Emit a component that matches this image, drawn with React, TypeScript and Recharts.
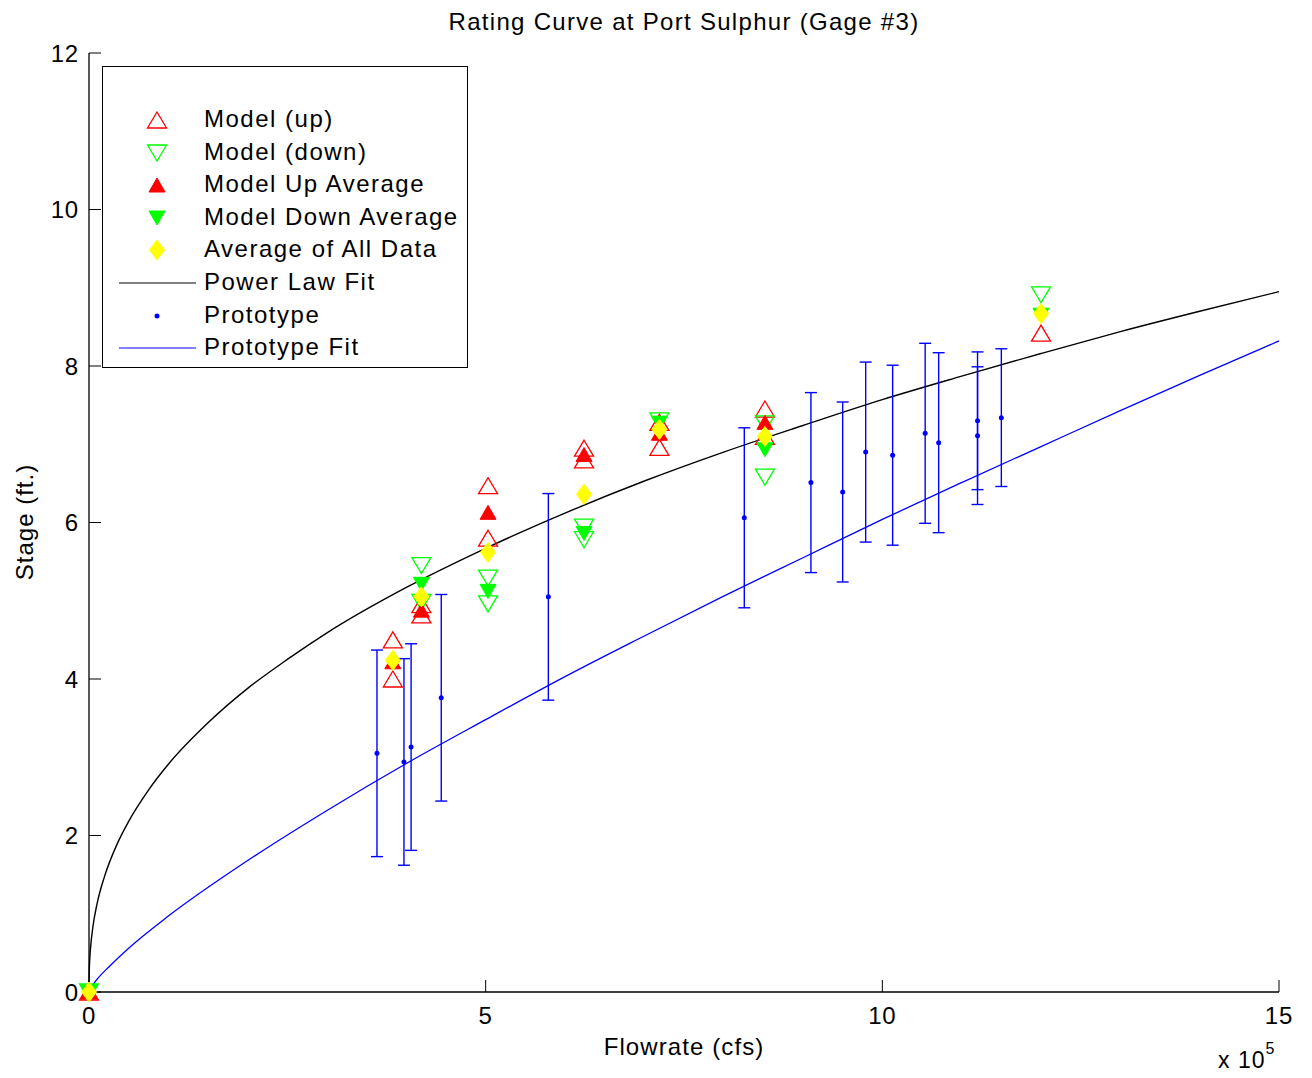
import React from 'react';
import { ComposedChart, Scatter, Line, XAxis, YAxis, ErrorBar } from 'recharts';

// Flowrate in units of 1e5 cfs, stage in ft
const modelFlows = [0, 3.83, 4.19, 5.03, 6.24, 7.19, 8.52, 12.0];
const modelUp = [[0], [4.5, 4.0], [4.95, 4.82], [6.47, 5.8], [6.95, 6.8], [7.28, 6.96], [7.45, 7.1], [8.42]];
const modelDown = [[0], [], [5.45, 4.98], [5.29, 4.96], [5.94, 5.78], [7.3], [7.26, 6.58], [8.91]];
const modelUpAvg = [0, 4.22, 4.88, 6.13, 6.87, 7.14, 7.28, null];
const modelDownAvg = [0, null, 5.21, 5.12, 5.86, 7.27, 6.93, 8.65];
const allAvg = [0, 4.24, 5.05, 5.62, 6.36, 7.19, 7.1, 8.67];

const protoFlow = [3.63, 3.97, 4.06, 4.44, 5.79, 8.26, 9.1, 9.5, 9.79, 10.13, 10.54, 10.71, 11.2, 11.2, 11.5];
const protoStage = [3.05, 2.94, 3.13, 3.76, 5.05, 6.06, 6.51, 6.39, 6.9, 6.86, 7.14, 7.02, 7.3, 7.11, 7.34];
const protoErr = [1.32, 1.32, 1.32, 1.32, 1.32, 1.15, 1.15, 1.15, 1.15, 1.15, 1.15, 1.15, 0.88, 0.88, 0.88];

const powerFlow = [0, 0.002, 0.005, 0.01, 0.02, 0.05, 0.1, 0.2, 0.35, 0.5, 0.75, 1, 1.5, 2, 2.5, 3, 4, 5, 6, 7, 8, 9, 10, 11, 12, 13, 14, 15];
const powerStage = [0, 0.2, 0.32, 0.43, 0.57, 0.84, 1.12, 1.49, 1.88, 2.18, 2.58, 2.91, 3.44, 3.88, 4.25, 4.59, 5.17, 5.67, 6.12, 6.53, 6.9, 7.24, 7.57, 7.87, 8.16, 8.44, 8.7, 8.95];

const protoFitFlow = [0, 0.05, 0.1, 0.25, 0.5, 1, 2, 3, 4, 5, 6, 7, 8, 9, 10, 11, 12, 13, 14, 15];
const protoFitStage = [0, 0.09, 0.16, 0.32, 0.56, 0.97, 1.68, 2.32, 2.92, 3.48, 4.03, 4.55, 5.06, 5.55, 6.04, 6.51, 6.97, 7.43, 7.88, 8.32];

const xTicks = [0, 5, 10, 15];
const yTicks = [0, 2, 4, 6, 8, 10, 12];

const RED = '#ff0000';
const GREEN = '#00ff00';
const BLUE = '#0000ff';
const YELLOW = '#ffff00';
const FONT = '"Liberation Sans", Arial, sans-serif';

const upData = modelFlows.flatMap((x, i) => modelUp[i].map(y => ({ x, y })));
const downData = modelFlows.flatMap((x, i) => modelDown[i].map(y => ({ x, y })));
const upAvgData = modelFlows.map((x, i) => ({ x, y: modelUpAvg[i] })).filter(d => d.y !== null);
const downAvgData = modelFlows.map((x, i) => ({ x, y: modelDownAvg[i] })).filter(d => d.y !== null);
const allAvgData = modelFlows.map((x, i) => ({ x, y: allAvg[i] }));
const protoData = protoFlow.map((x, i) => ({ x, y: protoStage[i], err: protoErr[i] }));
const powerData = powerFlow.map((x, i) => ({ x, y: powerStage[i] }));
const protoFitData = protoFitFlow.map((x, i) => ({ x, y: protoFitStage[i] }));

const triUp = (cx: number, cy: number, h: number, w: number) =>
  `${cx},${cy - h} ${cx - w},${cy + h} ${cx + w},${cy + h}`;
const triDown = (cx: number, cy: number, h: number, w: number) =>
  `${cx - w},${cy - h} ${cx + w},${cy - h} ${cx},${cy + h}`;

const UpOpen = ({ cx, cy }: any) => <polygon points={triUp(cx, cy, 8, 9.5)} fill="none" stroke={RED} strokeWidth={1.3} />;
const DownOpen = ({ cx, cy }: any) => <polygon points={triDown(cx, cy, 8, 9.5)} fill="none" stroke={GREEN} strokeWidth={1.3} />;
const UpFilled = ({ cx, cy }: any) => <polygon points={triUp(cx, cy, 7, 8)} fill={RED} stroke={RED} />;
const DownFilled = ({ cx, cy }: any) => <polygon points={triDown(cx, cy, 7, 8)} fill={GREEN} stroke={GREEN} />;
const Diamond = ({ cx, cy }: any) => (
  <polygon points={`${cx},${cy - 10} ${cx + 7.5},${cy} ${cx},${cy + 10} ${cx - 7.5},${cy}`} fill={YELLOW} stroke={YELLOW} />
);
const Dot = ({ cx, cy }: any) => <circle cx={cx} cy={cy} r={2.5} fill={BLUE} />;

const legendItems = [
  { label: 'Model (up)', icon: 'upOpen' },
  { label: 'Model (down)', icon: 'downOpen' },
  { label: 'Model Up Average', icon: 'upFilled' },
  { label: 'Model Down Average', icon: 'downFilled' },
  { label: 'Average of All Data', icon: 'diamond' },
  { label: 'Power Law Fit', icon: 'blackLine' },
  { label: 'Prototype', icon: 'dot' },
  { label: 'Prototype Fit', icon: 'blueLine' },
];

const LegendIcon = ({ icon }: { icon: string }) => {
  const cx = 40;
  const cy = 12;
  switch (icon) {
    case 'upOpen': return <UpOpen cx={cx} cy={cy} />;
    case 'downOpen': return <DownOpen cx={cx} cy={cy} />;
    case 'upFilled': return <UpFilled cx={cx} cy={cy} />;
    case 'downFilled': return <DownFilled cx={cx} cy={cy} />;
    case 'diamond': return <Diamond cx={cx} cy={cy} />;
    case 'dot': return <Dot cx={cx} cy={cy} />;
    case 'blackLine': return <line x1={2} x2={79} y1={cy} y2={cy} stroke="#000" strokeWidth={1.2} />;
    default: return <line x1={2} x2={79} y1={cy} y2={cy} stroke={BLUE} strokeWidth={1.2} />;
  }
};

const abs = (left: number, top: number, extra: React.CSSProperties = {}): React.CSSProperties => ({
  position: 'absolute', left, top, fontFamily: FONT, color: '#000', whiteSpace: 'nowrap', ...extra,
});

export default function App() {
  const tickStyle = { fontSize: 24, fill: '#000', fontFamily: FONT, letterSpacing: 0.8 };
  return (
    <div style={{ position: 'absolute', left: 0, top: 0, width: 1312, height: 1078, background: '#fff' }}>
      <ComposedChart width={1312} height={1078} margin={{ top: 53, right: 33, left: 0, bottom: 0 }}>
        <XAxis
          type="number" dataKey="x" domain={[0, 15]} ticks={xTicks} height={86}
          tickSize={-12} tickMargin={27} tick={tickStyle}
          stroke="#000" axisLine={{ stroke: '#000', strokeWidth: 1.3 }} tickLine={{ stroke: '#000' }}
        />
        <YAxis
          type="number" dataKey="y" domain={[0, 12]} ticks={yTicks} width={89}
          tickSize={-12} tickMargin={22} tick={tickStyle}
          stroke="#000" axisLine={{ stroke: '#000', strokeWidth: 1.3 }} tickLine={{ stroke: '#000' }}
        />
        <Scatter data={upData} shape={UpOpen} isAnimationActive={false} />
        <Scatter data={downData} shape={DownOpen} isAnimationActive={false} />
        <Scatter data={upAvgData} shape={UpFilled} isAnimationActive={false} />
        <Scatter data={downAvgData} shape={DownFilled} isAnimationActive={false} />
        <Scatter data={allAvgData} shape={Diamond} isAnimationActive={false} />
        <Line data={powerData} dataKey="y" type="monotone" stroke="#000" strokeWidth={1.4} dot={false} activeDot={false} isAnimationActive={false} />
        <Scatter data={protoData} shape={Dot} isAnimationActive={false}>
          <ErrorBar dataKey="err" direction="y" width={6} stroke={BLUE} strokeWidth={1.4} />
        </Scatter>
        <Line data={protoFitData} dataKey="y" type="monotone" stroke={BLUE} strokeWidth={1.3} dot={false} activeDot={false} isAnimationActive={false} />
      </ComposedChart>

      <div style={abs(0, 8, { width: 1368, textAlign: 'center', fontSize: 24, letterSpacing: 1.3 })}>
        Rating Curve at Port Sulphur (Gage #3)
      </div>
      <div style={abs(0, 1033, { width: 1368, textAlign: 'center', fontSize: 24, letterSpacing: 1.1 })}>Flowrate (cfs)</div>
      <div style={abs(1218, 1047, { fontSize: 23, letterSpacing: 1 })}>
        x 10<sup style={{ fontSize: 16, verticalAlign: 'top', position: 'relative', top: -7 }}>5</sup>
      </div>
      <div style={abs(25, 522, { fontSize: 24, letterSpacing: 1, transform: 'translate(-50%, -50%) rotate(-90deg)' })}>Stage (ft.)</div>

      <div style={{ position: 'absolute', left: 102, top: 66, width: 364, height: 300, border: '1.5px solid #000', background: '#fff' }}>
        {legendItems.map((item, i) => (
          <div key={item.label} style={{ position: 'absolute', left: 0, top: 53 + i * 32.6 - 12, height: 24, width: 360 }}>
            <svg width={90} height={24} style={{ position: 'absolute', left: 14, top: 0 }}>
              <LegendIcon icon={item.icon} />
            </svg>
            <div style={abs(101, -3, { fontSize: 24, lineHeight: '28px', letterSpacing: 1.5 })}>{item.label}</div>
          </div>
        ))}
      </div>
    </div>
  );
}
